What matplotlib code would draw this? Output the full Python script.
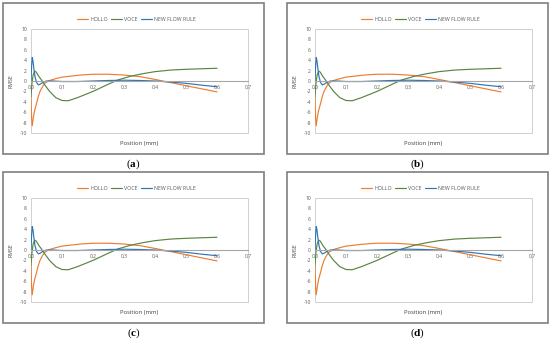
import matplotlib
matplotlib.use("Agg")
import matplotlib.pyplot as plt
from matplotlib.patches import Rectangle

# ---- data ----
x_hollo = [0.0, 0.002, 0.004, 0.0075, 0.012, 0.018, 0.023, 0.029, 0.037, 0.045,
           0.06, 0.08, 0.1, 0.13, 0.16, 0.2, 0.25, 0.3, 0.35, 0.4, 0.45, 0.5, 0.55, 0.6]
hollo = [-3.0, -7.2, -8.6, -7.0, -5.6, -4.3, -3.1, -2.0, -1.1, -0.4,
         0.1, 0.45, 0.75, 0.95, 1.15, 1.3, 1.3, 1.15, 0.85, 0.3, -0.3, -0.9, -1.5, -2.1]

x_voce = [0.0, 0.003, 0.007, 0.012, 0.017, 0.025, 0.035, 0.045, 0.06, 0.08, 0.1,
          0.12, 0.15, 0.2, 0.25, 0.28, 0.32, 0.36, 0.4, 0.45, 0.5, 0.55, 0.6]
voce = [-3.0, -0.5, 1.2, 1.9, 1.7, 0.9, 0.1, -0.8, -2.0, -3.2, -3.75,
        -3.8, -3.2, -2.0, -0.6, 0.2, 0.9, 1.4, 1.8, 2.1, 2.25, 2.35, 2.45]

x_nfr = [0.0, 0.002, 0.004, 0.006, 0.009, 0.013, 0.018, 0.024, 0.03, 0.04, 0.05,
         0.07, 0.1, 0.15, 0.2, 0.25, 0.3, 0.35, 0.4, 0.45, 0.5, 0.55, 0.6]
nfr = [0.0, 3.0, 4.5, 4.0, 2.5, 0.8, -0.3, -0.75, -0.6, -0.2, 0.0,
       0.0, -0.1, -0.1, 0.0, 0.1, 0.15, 0.1, 0.0, -0.2, -0.45, -0.8, -1.1]

series_names = ["HOLLO", "VOCE", "NEW FLOW RULE"]
series_colors = ["#ED7D31", "#5A8442", "#2E75B6"]
x_ticks = [0.0, 0.1, 0.2, 0.3, 0.4, 0.5, 0.6, 0.7]
x_tick_labels = ["0,0", "0,1", "0,2", "0,3", "0,4", "0,5", "0,6", "0,7"]
y_ticks = [-10, -8, -6, -4, -2, 0, 2, 4, 6, 8, 10]
panel_labels = ["a", "b", "c", "d"]

W, H = 550, 341
fig = plt.figure(figsize=(W / 100, H / 100), dpi=100)
plt.rcParams['font.family'] = ['Open Sans', 'DejaVu Sans']
plt.rcParams['mathtext.fontset'] = 'custom'
plt.rcParams['mathtext.rm'] = 'Liberation Serif'
plt.rcParams['mathtext.bf'] = 'Liberation Serif:bold'

BOX_W, BOX_H = 261, 151
panel_origins = [(3, 3), (287, 3), (3, 172), (287, 172)]


def fx(px):
    return px / W


def fy(py):
    return 1 - py / H


for (bx, by), lab in zip(panel_origins, panel_labels):
    # outer box
    fig.add_artist(Rectangle((fx(bx), fy(by + BOX_H)), BOX_W / W, BOX_H / H,
                             transform=fig.transFigure, fill=False,
                             edgecolor="#7f7f7f", linewidth=1.2))
    # plot area
    pl, pt = bx + 28, by + 26
    pw, ph = 217, 104
    ax = fig.add_axes([fx(pl), fy(pt + ph), pw / W, ph / H])
    xs = [x_hollo, x_voce, x_nfr]
    ys = [hollo, voce, nfr]
    for xv, yv, name, col in zip(xs, ys, series_names, series_colors):
        ax.plot(xv, yv, color=col, lw=0.85, label=name, solid_capstyle="round")
    ax.set_xlim(0, 0.7)
    ax.set_ylim(-10, 10)
    ax.set_xticks(x_ticks)
    ax.set_xticklabels(x_tick_labels)
    ax.set_yticks(y_ticks)
    ax.set_yticklabels([str(v) for v in y_ticks])
    for s in ["top", "right", "left"]:
        ax.spines[s].set_visible(False)
    ax.spines["bottom"].set_position(("data", 0))
    ax.spines["bottom"].set_color("#a6a6a6")
    ax.spines["bottom"].set_linewidth(0.8)
    ax.patch.set_edgecolor("#d0d0d0")
    ax.patch.set_linewidth(0.7)
    ax.tick_params(axis="both", length=0, labelsize=3.6, colors="#595959")
    ax.tick_params(axis="x", pad=2.5)
    ax.tick_params(axis="y", pad=3)
    ax.set_ylabel("RMSE", fontsize=3.8, color="#404040", labelpad=4)
    ax.set_xlabel("Position (mm)", fontsize=4.2, color="#404040")
    ax.xaxis.set_label_coords(0.5, -0.08)
    ax.legend(loc="lower center", bbox_to_anchor=(0.485, 1.02), ncol=3,
              frameon=False, fontsize=3.8, handlelength=2.2,
              columnspacing=0.6, handletextpad=0.3, labelcolor="#595959")
    # caption: normal parentheses, bold letter
    fig.text(fx(bx + BOX_W / 2), fy(by + BOX_H + 10),
             r"$\mathrm{(}\mathbf{" + lab + r"}\mathrm{)}$",
             ha="center", va="center", fontsize=8)

fig.savefig("out.png", dpi=100)
